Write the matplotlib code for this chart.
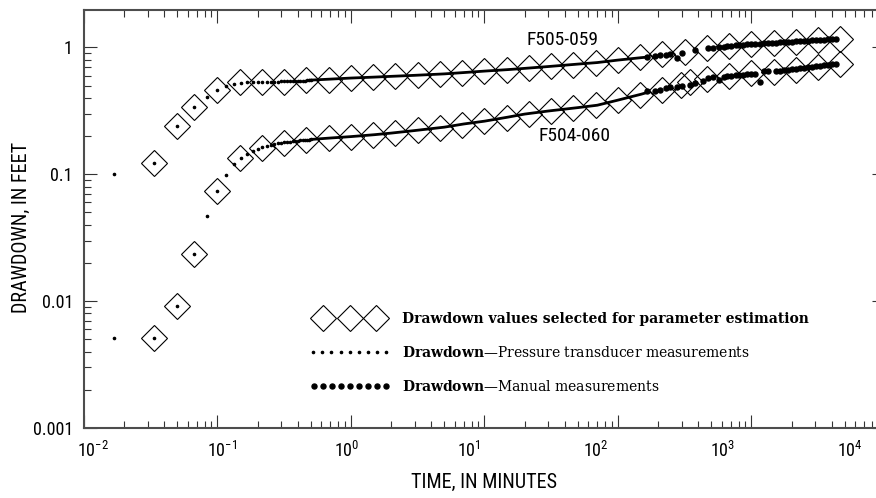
import matplotlib
matplotlib.use("Agg")
import matplotlib.pyplot as plt
import matplotlib.transforms as mtransforms
from matplotlib import font_manager
from matplotlib.lines import Line2D
from matplotlib.legend_handler import HandlerLine2D
from matplotlib.ticker import LogLocator, NullFormatter

# ---- data (time in minutes, drawdown in feet) ----

# pressure transducer, 1-second readings for the first 30 s
sec_early = [1, 2, 3, 4, 5, 6, 7, 8, 9, 10, 11, 12, 13, 14, 15,
             16, 17, 18, 19, 20, 21, 22, 23, 24, 25, 26, 27, 28, 29, 30]
f505_early = [0.100, 0.122, 0.240, 0.338, 0.406, 0.460, 0.495, 0.515, 0.525, 0.530,
              0.531, 0.533, 0.533, 0.535, 0.536, 0.536, 0.538, 0.539, 0.540, 0.540,
              0.542, 0.543, 0.543, 0.545, 0.546, 0.546, 0.548, 0.549, 0.550, 0.551]
f504_early = [0.0051, 0.0051, 0.0091, 0.0234, 0.0466, 0.0735, 0.098, 0.120, 0.134, 0.144,
              0.152, 0.158, 0.163, 0.167, 0.170, 0.173, 0.175, 0.177, 0.178, 0.180,
              0.181, 0.182, 0.183, 0.184, 0.185, 0.186, 0.186, 0.187, 0.187, 0.188]

# pressure transducer after 30 s
t_late = [0.5, 0.7, 1, 1.5, 2, 3, 5, 7, 10, 15, 20, 30, 50, 70, 100, 150, 170]
f505_late = [0.552, 0.562, 0.573, 0.583, 0.591, 0.602, 0.618, 0.633,
             0.650, 0.668, 0.683, 0.706, 0.738, 0.759, 0.794, 0.830, 0.840]
f504_late = [0.188, 0.193, 0.198, 0.205, 0.211, 0.221, 0.235, 0.249,
             0.262, 0.282, 0.298, 0.315, 0.335, 0.350, 0.384, 0.428, 0.445]

# values selected for parameter estimation (diamonds)
t_sel_505 = [0.0333, 0.05, 0.0667, 0.1, 0.147, 0.215, 0.316, 0.464, 0.681, 1.0, 1.47,
             2.15, 3.16, 4.64, 6.81, 10, 14.7, 21.5, 31.6, 46.4, 68.1, 100, 147, 215,
             316, 464, 681, 1000, 1470, 2150, 3160, 4640]
s_sel_505 = [0.122, 0.24, 0.338, 0.46, 0.532, 0.532, 0.537, 0.552, 0.557, 0.573, 0.583,
             0.594, 0.605, 0.616, 0.633, 0.65, 0.668, 0.687, 0.713, 0.732, 0.752, 0.794,
             0.838, 0.885, 0.918, 0.987, 1.024, 1.062, 1.081, 1.101, 1.14, 1.162]
t_sel_504 = [0.0333, 0.05, 0.0667, 0.1, 0.147, 0.215, 0.316, 0.464, 0.681, 1.0, 1.47,
             2.15, 3.16, 4.64, 6.81, 10, 14.7, 21.5, 31.6, 46.4, 68.1, 100, 147, 215,
             294, 349, 464, 681, 1000, 1470, 2150, 3160, 4640]
s_sel_504 = [0.0051, 0.0091, 0.0234, 0.0735, 0.134, 0.161, 0.176, 0.187, 0.193, 0.198,
             0.203, 0.213, 0.223, 0.233, 0.246, 0.262, 0.279, 0.30, 0.317, 0.335, 0.35,
             0.384, 0.42, 0.46, 0.504, 0.532, 0.562, 0.60, 0.627, 0.638, 0.662, 0.70, 0.738]

# manual measurements
t_man_505 = [166, 190, 208, 227, 247, 279, 304, 380, 476, 519, 566, 617, 661, 708,
             759, 813, 871, 933, 1000, 1071, 1148, 1230, 1318, 1412, 1513, 1622, 1738,
             1862, 1995, 2138, 2291, 2455, 2630, 2818, 3020, 3236, 3467, 3715, 3981, 4266]
s_man_505 = [0.838, 0.854, 0.869, 0.877, 0.885, 0.831, 0.910, 0.952, 0.987, 0.996,
             1.005, 1.015, 1.024, 1.033, 1.043, 1.046, 1.052, 1.058, 1.062, 1.068,
             1.071, 1.077, 1.081, 1.087, 1.091, 1.097, 1.101, 1.107, 1.111, 1.117,
             1.121, 1.127, 1.131, 1.137, 1.142, 1.146, 1.152, 1.156, 1.162, 1.167]
t_man_504 = [166, 190, 208, 227, 247, 279, 304, 345, 380, 430, 476, 519, 566, 617,
             661, 708, 759, 813, 871, 933, 1000, 1071, 1148, 1230, 1318, 1513, 1622,
             1738, 1862, 1995, 2138, 2291, 2455, 2630, 2818, 3020, 3236, 3467, 3715,
             3981, 4266]
s_man_504 = [0.452, 0.456, 0.46, 0.474, 0.486, 0.491, 0.495, 0.504, 0.523, 0.542,
             0.573, 0.583, 0.552, 0.589, 0.594, 0.60, 0.605, 0.608, 0.61, 0.614,
             0.616, 0.616, 0.532, 0.65, 0.65, 0.65, 0.656, 0.662, 0.668, 0.674,
             0.681, 0.687, 0.693, 0.70, 0.706, 0.712, 0.719, 0.725, 0.732, 0.738, 0.745]

# x tick labels are set by hand in the original, a bit off the ticks
xlab_text = [r"$\mathregular{10^{-2}}$", r"$\mathregular{10^{-1}}$", r"$\mathregular{10^{0}}$",
             r"$\mathregular{10^{1}}$", r"$\mathregular{10^{2}}$", r"$\mathregular{10^{3}}$",
             r"$\mathregular{10^{4}}$"]
xlab_pos = [0.01175, 0.1076, 0.9376, 7.603, 68.23, 611, 5470]

legend_labels = ["Drawdown values selected for parameter estimation",
                 r"$\mathbf{Drawdown}$" + "\u2014Pressure transducer measurements",
                 r"$\mathbf{Drawdown}$" + "\u2014Manual measurements"]

# ---- fonts ----
installed = {f.name for f in font_manager.fontManager.ttflist}
if "Roboto Condensed" in installed:
    sans, fs_lab, fs_tick, fs_well = "Roboto Condensed", 14.5, 13, 14
elif "Liberation Sans Narrow" in installed:
    sans, fs_lab, fs_tick, fs_well = "Liberation Sans Narrow", 14.5, 13, 14
else:
    sans, fs_lab, fs_tick, fs_well = "Roboto", 13, 12, 12.5
plt.rcParams["font.family"] = [sans, "DejaVu Sans"]


def main():
    fig = plt.figure(figsize=(8.76, 4.98), dpi=100)
    ax = fig.add_axes([84 / 876, 70 / 498, 801 / 876, 418 / 498])

    dia = dict(ls="none", marker="D", ms=12.8, mfc="none", mec="black", mew=0.8)
    small = dict(ls="none", marker="o", ms=1.6, color="black")
    big = dict(ls="none", marker="o", ms=3.6, color="black")

    for t_sel, s_sel in [(t_sel_505, s_sel_505), (t_sel_504, s_sel_504)]:
        ax.plot(t_sel, s_sel, **dia)

    t_early = [s / 60 for s in sec_early]
    for early, late in [(f505_early, f505_late), (f504_early, f504_late)]:
        ax.plot(t_early, early, **small)
        ax.plot(t_late, late, color="black", lw=2.0)

    ax.plot(t_man_505, s_man_505, **big)
    ax.plot(t_man_504, s_man_504, **big)

    ax.set_xscale("log")
    ax.set_yscale("log")
    ax.set_xlim(1e-2, 1e4)
    ax.set_ylim(1e-3, 1.97)

    ax.xaxis.set_major_locator(LogLocator(base=10, numticks=20))
    ax.xaxis.set_minor_locator(LogLocator(base=10, subs=range(2, 10), numticks=20))
    ax.xaxis.set_minor_formatter(NullFormatter())
    ax.tick_params(axis="x", which="both", labelbottom=False)

    ax.set_yticks([0.001, 0.01, 0.1, 1], labels=["0.001", "0.01", "0.1", "1"])
    ax.yaxis.set_minor_locator(LogLocator(base=10, subs=range(2, 10), numticks=20))
    ax.yaxis.set_minor_formatter(NullFormatter())

    ax.tick_params(which="both", direction="in", top=True, right=True,
                   color="#333333", width=0.8)
    ax.tick_params(which="major", length=9.4)
    ax.tick_params(which="minor", length=4.7)
    ax.tick_params(axis="y", labelsize=fs_tick, pad=8)

    for sp in ax.spines.values():
        sp.set_linewidth(1.5)
        sp.set_color("#4d4d4d")

    trans = mtransforms.blended_transform_factory(ax.transData, ax.transAxes)
    for pos, lab in zip(xlab_pos, xlab_text):
        ax.text(pos, -0.031, lab, transform=trans, ha="center", va="top", fontsize=fs_tick)

    ax.set_xlabel("TIME, IN MINUTES", fontsize=fs_lab)
    ax.xaxis.set_label_coords(0.5, -0.13)
    ax.xaxis.label.set_verticalalignment("center")
    ax.set_ylabel("DRAWDOWN, IN FEET", fontsize=fs_lab)
    ax.yaxis.set_label_coords(-0.078, 0.48)
    ax.yaxis.label.set_verticalalignment("center")

    ax.text(38.3, 1.142, "F505-059", ha="center", va="center", fontsize=fs_well)
    ax.text(47.1, 0.2, "F504-060", ha="center", va="center", fontsize=fs_well)

    # legend
    h_sel = Line2D([], [], **dia)
    h_tr = Line2D([], [], **small)
    h_man = Line2D([], [], **big)
    leg = ax.legend([h_sel, h_tr, h_man], legend_labels,
                    handler_map={h_sel: HandlerLine2D(numpoints=3, marker_pad=0.83),
                                 h_tr: HandlerLine2D(numpoints=9, marker_pad=0.11),
                                 h_man: HandlerLine2D(numpoints=9, marker_pad=0.15)},
                    loc="upper left", bbox_to_anchor=(311.5 / 876, (498 - 312) / 498),
                    bbox_transform=fig.transFigure, frameon=False, borderpad=0,
                    borderaxespad=0, handlelength=5.5, handletextpad=1.0,
                    labelspacing=1.38, prop={"family": "DejaVu Serif", "size": 10})
    texts = leg.get_texts()
    texts[0].set_fontweight("bold")
    for t in texts:
        t.set_math_fontfamily("dejavuserif")

    fig.savefig("out.png", dpi=100)


if __name__ == "__main__":
    main()
